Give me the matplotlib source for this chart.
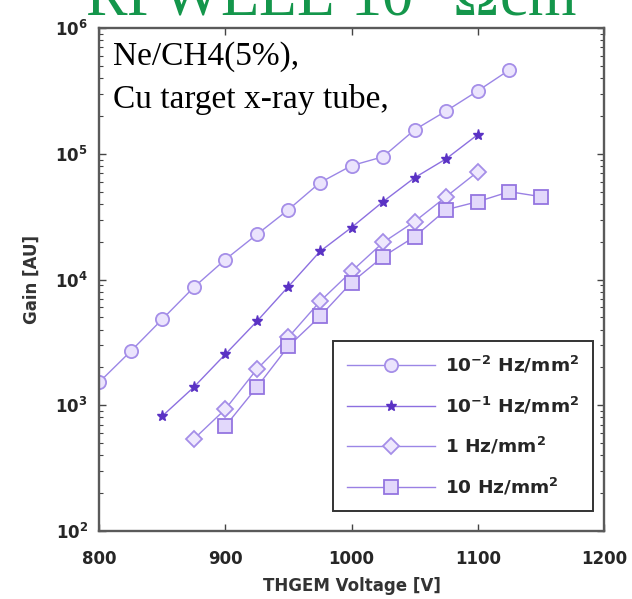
import matplotlib
matplotlib.use("Agg")
import matplotlib.pyplot as plt
from matplotlib.ticker import FixedLocator, FixedFormatter, LogLocator, NullFormatter

plt.rcParams["mathtext.fontset"] = "custom"
plt.rcParams["mathtext.default"] = "bf"
plt.rcParams["mathtext.bf"] = "DejaVu Sans:bold"
plt.rcParams["mathtext.rm"] = "Liberation Serif"
plt.rcParams["mathtext.it"] = "Liberation Serif:italic"

# THGEM voltage [V] for each rate series
v_rate_1e_2 = [800, 825, 850, 875, 900, 925, 950, 975, 1000, 1025, 1050, 1075, 1100, 1125]
v_rate_1e_1 = [850, 875, 900, 925, 950, 975, 1000, 1025, 1050, 1075, 1100]
v_rate_1 = [875, 900, 925, 950, 975, 1000, 1025, 1050, 1075, 1100]
v_rate_10 = [900, 925, 950, 975, 1000, 1025, 1050, 1075, 1100, 1125, 1150]

# Gain [AU]
gain_rate_1e_2 = [1520, 2680, 4820, 8650, 14400, 22800, 35900, 58900, 80400, 94700,
                  155000, 219000, 316000, 464000]
gain_rate_1e_1 = [818, 1390, 2540, 4640, 8790, 16700, 25900, 41600, 64500, 91200, 142000]
gain_rate_1 = [537, 929, 1930, 3470, 6690, 11600, 19700, 28900, 45600, 72000]
gain_rate_10 = [681, 1390, 2940, 5080, 9460, 15200, 21900, 35900, 41600, 49900, 45600]

labels = [r"10$^{-2}$ Hz/mm$^{2}$", r"10$^{-1}$ Hz/mm$^{2}$",
          r"1 Hz/mm$^{2}$", r"10 Hz/mm$^{2}$"]

x_ticks = [800, 900, 1000, 1100, 1200]
y_exponents = [2, 3, 4, 5, 6]

sans_bold = {"family": "DejaVu Sans", "weight": "bold"}

fig = plt.figure(figsize=(6.32, 5.99), dpi=100)
ax = fig.add_axes([99 / 632, 68 / 599, 505 / 632, 503 / 599])

line_col = "#9b86e6"
ax.plot(v_rate_1e_2, gain_rate_1e_2, "-o", color=line_col, lw=1.0, ms=9.5,
        mfc="#ebe4fd", mec="#a58ee8", mew=1.3, label=labels[0])
ax.plot(v_rate_1e_1, gain_rate_1e_1, "-*", color="#8c6fe0", lw=1.0, ms=8,
        mfc="#5a32c4", mec="#5a32c4", mew=1.0, label=labels[1])
ax.plot(v_rate_1, gain_rate_1, "-D", color=line_col, lw=1.0, ms=8,
        mfc="#eee8fd", mec="#a58ee8", mew=1.3, label=labels[2])
ax.plot(v_rate_10, gain_rate_10, "-s", color="#9a80e4", lw=1.0, ms=9.5,
        mfc="#e2d8fb", mec="#9475e0", mew=1.3, label=labels[3])

ax.set_yscale("log")
ax.set_xlim(800, 1200)
ax.set_ylim(1e2, 1e6)

ax.xaxis.set_major_locator(FixedLocator(x_ticks))
ax.set_xticklabels([str(v) for v in x_ticks], fontsize=12, **sans_bold)
ax.yaxis.set_major_locator(FixedLocator([10.0 ** e for e in y_exponents]))
ax.yaxis.set_major_formatter(FixedFormatter([r"$10^{%d}$" % e for e in y_exponents]))
ax.yaxis.set_minor_locator(LogLocator(base=10, subs=range(2, 10)))
ax.yaxis.set_minor_formatter(NullFormatter())
for t in ax.get_yticklabels():
    t.set_fontsize(12)

ax.tick_params(which="both", direction="in", top=True, right=True, colors="#444444",
               labelcolor="#262626")
ax.tick_params(axis="x", which="major", length=5, width=1.0, pad=14)
ax.tick_params(axis="y", which="major", length=5, width=1.0, pad=8)
ax.tick_params(which="minor", length=3, width=0.8)
for sp in ax.spines.values():
    sp.set_color("#5a5a5a")
    sp.set_linewidth(1.7)

ax.set_xlabel("THGEM Voltage [V]", fontsize=12, color="#333333", labelpad=6, **sans_bold)
ax.set_ylabel("Gain [AU]", fontsize=12, color="#333333", labelpad=10, **sans_bold)

leg = ax.legend(loc="lower right", bbox_to_anchor=(0.978, 0.04), borderaxespad=0,
                fancybox=False, edgecolor="#333333", framealpha=1.0, borderpad=0.75,
                handlelength=4.8, labelspacing=1.05, handletextpad=0.5,
                prop={"family": "DejaVu Sans", "weight": "bold", "size": 13.3})
leg.get_frame().set_linewidth(1.4)
for t in leg.get_texts():
    t.set_color("#262626")

ax.text(0.028, 0.9266, "Ne/CH4(5%),", transform=ax.transAxes, fontsize=24,
        family="Liberation Serif", va="baseline", ha="left", color="black")
ax.text(0.028, 0.8413, "Cu target x-ray tube,", transform=ax.transAxes, fontsize=24,
        family="Liberation Serif", va="baseline", ha="left", color="black")

fig.text(85 / 632, 1 - 16 / 599, r"RPWELL 10$^{\mathrm{9}}$ Ωcm", fontsize=45,
         family="Liberation Serif", color="#14964b", va="baseline", ha="left")

fig.savefig("out.png", dpi=100)
